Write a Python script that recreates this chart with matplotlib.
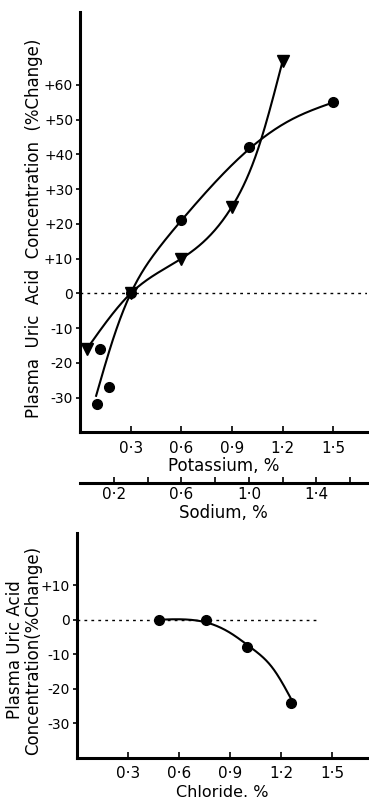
import numpy as np
import matplotlib.pyplot as plt

# top panel: potassium (circles) and sodium (triangles)
circ_x = [0.10, 0.12, 0.17, 0.30, 0.60, 1.00, 1.50]
circ_y = [-32, -16, -27, 0, 21, 42, 55]
tri_x = [0.04, 0.30, 0.60, 0.90, 1.20]
tri_y = [-16, 0, 10, 25, 67]
# hand-drawn guide curves
circ_guide_x = [0.095, 0.20, 0.30, 0.45, 0.60, 0.80, 1.00, 1.25, 1.50]
circ_guide_y = [-29.5, -12.5, 0, 12, 21, 32, 41.5, 50, 55]
tri_guide_x = [0.04, 0.30, 0.60, 0.90, 1.05, 1.20]
tri_guide_y = [-16, 0, 10, 25, 41, 67]

# bottom panel: chloride
cl_x = [0.48, 0.76, 1.00, 1.26]
cl_y = [0, 0, -8, -24]
cl_guide_x = [0.48, 0.62, 0.76, 0.90, 1.02, 1.15, 1.27]
cl_guide_y = [0, 0.1, -0.8, -3.8, -8, -14, -24]

top_yticks = [-30, -20, -10, 0, 10, 20, 30, 40, 50, 60]
top_ylabels = ["-30", "-20", "-10", "0", "+10", "+20", "+30", "+40", "+50", "+60"]
bot_yticks = [-30, -20, -10, 0, 10]
bot_ylabels = ["-30", "-20", "-10", "0", "+10"]
k_ticks = [0.3, 0.6, 0.9, 1.2, 1.5]
k_labels = ["0·3", "0·6", "0·9", "1·2", "1·5"]
na_ticks = [0.2, 0.4, 0.6, 0.8, 1.0, 1.2, 1.4, 1.6]
na_labels = ["0·2", "", "0·6", "", "1·0", "", "1·4", ""]


def smooth(x, y, n=200):
    # natural cubic spline through the points
    x = np.asarray(x, float)
    y = np.asarray(y, float)
    k = len(x)
    h = np.diff(x)
    A = np.zeros((k, k))
    r = np.zeros(k)
    A[0, 0] = A[-1, -1] = 1
    for i in range(1, k - 1):
        A[i, i - 1] = h[i - 1]
        A[i, i] = 2 * (h[i - 1] + h[i])
        A[i, i + 1] = h[i]
        r[i] = 6 * ((y[i + 1] - y[i]) / h[i] - (y[i] - y[i - 1]) / h[i - 1])
    M = np.linalg.solve(A, r)
    xs = np.linspace(x[0], x[-1], n)
    j = np.clip(np.searchsorted(x, xs) - 1, 0, k - 2)
    a = x[j + 1] - xs
    b = xs - x[j]
    ys = (M[j] * a**3 + M[j + 1] * b**3) / (6 * h[j]) \
        + (y[j] / h[j] - M[j] * h[j] / 6) * a + (y[j + 1] / h[j] - M[j + 1] * h[j] / 6) * b
    return xs, ys


plt.rcParams.update({"font.family": "DejaVu Sans", "font.size": 10})

fig = plt.figure(figsize=(3.69, 8.02), dpi=100)
ax1 = fig.add_axes([0.217, 0.461, 0.778, 0.524])
ax2 = fig.add_axes([0.209, 0.055, 0.788, 0.280])


def style(ax):
    for s in ["top", "right"]:
        ax.spines[s].set_visible(False)
    for s in ["left", "bottom"]:
        ax.spines[s].set_linewidth(2.2)
    ax.tick_params(axis="x", direction="in", length=4, width=1.2, pad=6, labelsize=11)
    ax.tick_params(axis="y", direction="out", length=3, width=1.2, pad=2, labelsize=10)


style(ax1)
style(ax2)

# top panel curves
ax1.plot(*smooth(circ_guide_x, circ_guide_y), color="black", lw=1.5)
ax1.plot(*smooth(tri_guide_x, tri_guide_y), color="black", lw=1.5)
ax1.plot(circ_x, circ_y, "o", color="black", ms=7)
ax1.plot(tri_x, tri_y, "v", color="black", ms=9)
ax1.axhline(0, color="black", lw=1, ls=(0, (2, 3)))

ax1.set_xlim(0, 1.70)
ax1.set_ylim(-40, 81)
ax1.set_yticks(top_yticks)
ax1.set_yticklabels(top_ylabels)
ax1.set_xticks(k_ticks)
ax1.set_xticklabels(k_labels)
ax1.set_xlabel("Potassium, %", fontsize=12, labelpad=1)
ax1.set_ylabel("Plasma  Uric  Acid  Concentration  (%Change)", fontsize=12)
ax1.yaxis.set_label_coords(-0.13, 0.486)

sec = ax1.secondary_xaxis(-0.121)
sec.spines["bottom"].set_linewidth(2.2)
sec.set_xticks(na_ticks)
sec.set_xticklabels(na_labels)
sec.tick_params(direction="in", length=4, width=1.2, pad=3, labelsize=11)
sec.set_xlabel("Sodium, %", fontsize=12, labelpad=1)

# bottom panel
ax2.plot(*smooth(cl_guide_x, cl_guide_y), color="black", lw=1.5)
ax2.plot(cl_x, cl_y, "o", color="black", ms=7)
ax2.plot([0, 1.42], [0, 0], color="black", lw=1, ls=(0, (2, 3)))
ax2.set_xlim(0, 1.71)
ax2.set_ylim(-40, 25)
ax2.set_yticks(bot_yticks)
ax2.set_yticklabels(bot_ylabels)
ax2.set_xticks(k_ticks)
ax2.set_xticklabels(k_labels)
ax2.set_xlabel("Chloride. %", fontsize=11.5, labelpad=3)
ax2.set_ylabel("Plasma Uric Acid\nConcentration(%Change)", fontsize=12, linespacing=1.0)
ax2.yaxis.set_label_coords(-0.12, 0.48)

fig.savefig("out.png", dpi=100)
